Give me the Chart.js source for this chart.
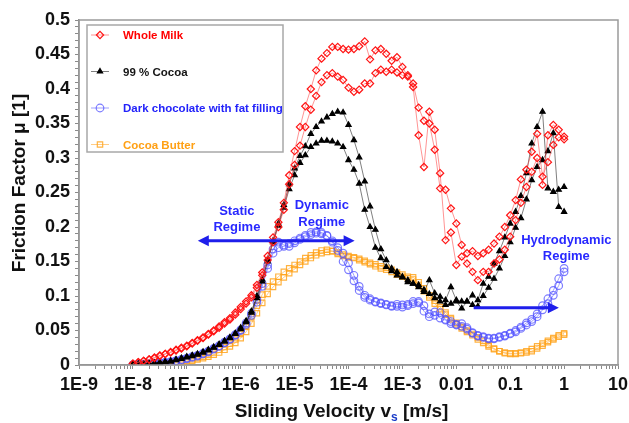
<!DOCTYPE html>
<html>
<head>
<meta charset="utf-8">
<script src="https://cdn.jsdelivr.net/npm/chart.js@4.4.1/dist/chart.umd.min.js"></script>
<style>
  html, body { margin: 0; padding: 0; background: #fff; }
  #wrap { width: 629px; height: 423px; }
</style>
</head>
<body>
<div id="wrap"><canvas id="grafico"></canvas></div>
<script>
// velocities [m/s], 10 points per decade
const velocity = [
  1e-8, 1.26e-8, 1.58e-8, 2e-8, 2.51e-8, 3.16e-8, 3.98e-8, 5.01e-8, 6.31e-8, 7.94e-8,
  1e-7, 1.26e-7, 1.58e-7, 2e-7, 2.51e-7, 3.16e-7, 3.98e-7, 5.01e-7, 6.31e-7, 7.94e-7,
  1e-6, 1.26e-6, 1.58e-6, 2e-6, 2.51e-6, 3.16e-6, 3.98e-6, 5.01e-6, 6.31e-6, 7.94e-6,
  1e-5, 1.26e-5, 1.58e-5, 2e-5, 2.51e-5, 3.16e-5, 3.98e-5, 5.01e-5, 6.31e-5, 7.94e-5,
  1e-4, 1.26e-4, 1.58e-4, 2e-4, 2.51e-4, 3.16e-4, 3.98e-4, 5.01e-4, 6.31e-4, 7.94e-4,
  1e-3, 1.26e-3, 1.58e-3, 2e-3, 2.51e-3, 3.16e-3, 3.98e-3, 5.01e-3, 6.31e-3, 7.94e-3,
  0.01, 0.0126, 0.0158, 0.02, 0.0251, 0.0316, 0.0398, 0.0501, 0.0631, 0.0794,
  0.1, 0.126, 0.158, 0.2, 0.251, 0.316, 0.398, 0.501, 0.631, 0.794,
  1
];

// Whole Milk, two runs
const milkRun1 = [
  0.002,0.004,0.006,0.008,0.011,0.014,0.016,0.019,0.022,0.025,
  0.028,0.032,0.036,0.040,0.045,0.050,0.056,0.062,0.068,0.076,
  0.084,0.092,0.101,0.116,0.134,0.158,0.185,0.207,0.235,0.275,
  0.310,0.345,0.375,0.400,0.427,0.444,0.452,0.461,0.461,0.458,
  0.457,0.458,0.462,0.469,0.443,0.456,0.458,0.451,0.441,0.446,
  0.432,0.418,0.408,0.373,0.354,0.350,0.312,0.256,0.254,0.227,
  0.205,0.174,0.162,0.165,0.158,0.162,0.167,0.176,0.186,0.200,
  0.217,0.239,0.269,0.283,0.309,0.335,0.273,0.294,0.319,0.330,
  0.327
];
const milkRun2 = [
  0.002,0.004,0.006,0.008,0.010,0.013,0.016,0.018,0.021,0.024,
  0.027,0.031,0.035,0.039,0.044,0.049,0.054,0.060,0.066,0.073,
  0.081,0.089,0.098,0.112,0.130,0.152,0.178,0.200,0.225,0.262,
  0.290,0.318,0.345,0.370,0.390,0.410,0.420,0.423,0.418,0.413,
  0.402,0.396,0.399,0.408,0.408,0.423,0.428,0.425,0.428,0.424,
  0.420,0.420,0.403,0.333,0.287,0.367,0.341,0.278,0.181,0.192,
  0.145,0.157,0.147,0.135,0.123,0.135,0.135,0.147,0.153,0.167,
  0.186,0.210,0.235,0.258,0.280,0.300,0.261,0.333,0.348,0.341,
  0.331
];

// 99 % Cocoa, two runs
const cocoaRun1 = [
  0.001,0.001,0.002,0.002,0.003,0.004,0.005,0.006,0.008,0.010,
  0.012,0.014,0.016,0.019,0.022,0.026,0.030,0.035,0.040,0.046,
  0.054,0.064,0.078,0.100,0.124,0.153,0.180,0.205,0.232,0.262,
  0.285,0.303,0.317,0.335,0.345,0.353,0.359,0.364,0.367,0.366,
  0.348,0.326,0.301,0.266,0.230,0.196,0.168,0.152,0.140,0.135,
  0.128,0.123,0.118,0.116,0.106,0.123,0.104,0.099,0.094,0.113,
  0.094,0.092,0.092,0.101,0.094,0.118,0.128,0.147,0.165,0.185,
  0.205,0.222,0.245,0.278,0.321,0.345,0.367,0.256,0.251,0.254,
  0.258
];
const cocoaRun2 = [
  0.001,0.001,0.001,0.002,0.002,0.003,0.004,0.005,0.007,0.009,
  0.011,0.013,0.015,0.018,0.021,0.025,0.029,0.034,0.039,0.045,
  0.052,0.062,0.076,0.097,0.121,0.150,0.178,0.202,0.228,0.255,
  0.275,0.293,0.304,0.316,0.321,0.325,0.325,0.324,0.321,0.316,
  0.297,0.283,0.263,0.225,0.200,0.170,0.155,0.142,0.136,0.130,
  0.127,0.120,0.118,0.113,0.109,0.103,0.097,0.092,0.087,0.089,
  0.092,0.082,0.092,0.087,0.085,0.100,0.112,0.125,0.140,0.158,
  0.178,0.199,0.213,0.240,0.268,0.287,0.297,0.310,0.336,0.229,
  0.222
];

// Dark chocolate with fat filling, two runs
const darkRun1 = [
  0.000,0.001,0.001,0.002,0.002,0.003,0.004,0.005,0.006,0.008,
  0.010,0.012,0.014,0.017,0.020,0.024,0.028,0.033,0.038,0.044,
  0.051,0.061,0.075,0.095,0.118,0.145,0.168,0.178,0.174,0.172,
  0.177,0.182,0.186,0.189,0.191,0.190,0.187,0.180,0.170,0.162,
  0.148,0.130,0.114,0.101,0.096,0.091,0.089,0.087,0.085,0.085,
  0.084,0.086,0.089,0.092,0.086,0.074,0.072,0.076,0.066,0.063,
  0.059,0.060,0.054,0.047,0.043,0.041,0.039,0.039,0.040,0.042,
  0.045,0.048,0.053,0.058,0.063,0.070,0.080,0.089,0.101,0.115,
  0.135
];
const darkRun2 = [
  0.000,0.001,0.001,0.001,0.002,0.003,0.003,0.004,0.006,0.007,
  0.009,0.011,0.013,0.016,0.019,0.023,0.027,0.032,0.037,0.043,
  0.050,0.059,0.072,0.091,0.114,0.140,0.162,0.170,0.172,0.176,
  0.180,0.184,0.188,0.192,0.193,0.192,0.188,0.178,0.166,0.150,
  0.138,0.122,0.108,0.098,0.094,0.092,0.090,0.088,0.086,0.088,
  0.087,0.088,0.092,0.090,0.078,0.070,0.077,0.068,0.065,0.060,
  0.058,0.056,0.052,0.046,0.042,0.040,0.038,0.038,0.041,0.043,
  0.046,0.050,0.055,0.061,0.066,0.074,0.086,0.096,0.108,0.125,
  0.140
];

// Cocoa Butter, two runs
const butterRun1 = [
  0.000,0.000,0.001,0.001,0.001,0.002,0.002,0.003,0.004,0.005,
  0.006,0.008,0.010,0.012,0.015,0.018,0.022,0.026,0.031,0.037,
  0.045,0.056,0.070,0.086,0.102,0.114,0.121,0.128,0.135,0.140,
  0.145,0.150,0.155,0.159,0.163,0.166,0.167,0.165,0.161,0.158,
  0.156,0.155,0.152,0.149,0.146,0.143,0.140,0.138,0.135,0.131,
  0.128,0.126,0.127,0.120,0.111,0.101,0.093,0.084,0.076,0.068,
  0.061,0.055,0.050,0.045,0.040,0.035,0.029,0.024,0.020,0.017,
  0.016,0.016,0.017,0.018,0.020,0.024,0.028,0.033,0.037,0.041,
  0.044
];
const butterRun2 = [
  0.000,0.000,0.000,0.001,0.001,0.001,0.002,0.002,0.003,0.004,
  0.005,0.006,0.008,0.010,0.012,0.015,0.018,0.022,0.027,0.032,
  0.039,0.048,0.060,0.075,0.090,0.103,0.113,0.120,0.127,0.133,
  0.139,0.145,0.150,0.155,0.159,0.162,0.164,0.165,0.163,0.160,
  0.158,0.156,0.154,0.151,0.148,0.146,0.143,0.141,0.138,0.134,
  0.131,0.128,0.124,0.116,0.107,0.098,0.089,0.081,0.073,0.066,
  0.059,0.053,0.048,0.043,0.037,0.032,0.027,0.023,0.020,0.018,
  0.017,0.017,0.018,0.020,0.023,0.027,0.031,0.035,0.039,0.043,
  0.046
];

const seriesNames = ['Whole Milk', '99 % Cocoa', 'Dark chocolate with fat filling', 'Cocoa Butter'];
const xTickValues = [1e-9, 1e-8, 1e-7, 1e-6, 1e-5, 1e-4, 1e-3, 0.01, 0.1, 1, 10];
const xTickLabels = ['1E-9', '1E-8', '1E-7', '1E-6', '1E-5', '1E-4', '1E-3', '0.01', '0.1', '1', '10'];
const yTickValues = [0, 0.05, 0.1, 0.15, 0.2, 0.25, 0.3, 0.35, 0.4, 0.45, 0.5];
const yTickLabels = ['0', '0.05', '0.1', '0.15', '0.2', '0.25', '0.3', '0.35', '0.4', '0.45', '0.5'];
const xTitle = ['Sliding Velocity v', 's', ' [m/s]'];
const yTitle = 'Friction Factor \u03bc [1]';
const regimeNotes = [
  { lines: ['Static', 'Regime'], x: 8.5e-7, y: [0.222, 0.200] },
  { lines: ['Dynamic', 'Regime'], x: 3.2e-5, y: [0.231, 0.207] },
  { lines: ['Hydrodynamic', 'Regime'], x: 1.1, y: [0.181, 0.158] }
];

const FONT = "'Liberation Sans', Arial, sans-serif";
const BLUE = 'rgb(30,30,235)';

const styles = [
  { color: 'rgb(255,20,20)', line: 'rgba(255,60,60,0.55)', point: 'rectRot', radius: 3.6, fill: 'rgba(255,255,255,0)', text: 'rgb(255,0,0)' },
  { color: 'rgb(0,0,0)', line: 'rgba(0,0,0,0.5)', point: 'triangle', radius: 3, fill: 'rgb(0,0,0)', text: 'rgb(20,20,20)' },
  { color: 'rgba(80,80,255,0.75)', line: 'rgba(80,80,255,0.55)', point: 'circle', radius: 3.8, fill: 'rgba(255,255,255,0)', text: 'rgb(35,35,250)' },
  { color: 'rgba(255,165,30,0.85)', line: 'rgba(255,170,50,0.6)', point: 'rect', radius: 3.8, fill: 'rgba(255,255,255,0)', text: 'rgb(255,160,20)' }
];

const runs = [[milkRun1, milkRun2], [cocoaRun1, cocoaRun2], [darkRun1, darkRun2], [butterRun1, butterRun2]];
const datasets = [];
runs.forEach((pair, s) => {
  pair.forEach((run, r) => {
    datasets.push({
      label: seriesNames[s] + ' ' + (r + 1),
      data: run.map((y, i) => ({ x: velocity[i], y: y })),
      borderColor: styles[s].line,
      borderWidth: 1,
      pointStyle: styles[s].point,
      pointRadius: styles[s].radius,
      pointBorderColor: styles[s].color,
      pointBackgroundColor: styles[s].fill,
      pointBorderWidth: 1.2,
      tension: 0,
      fill: false
    });
  });
});

// tick positions (majors + minors) for the axes
const xTickPositions = [];
xTickValues.forEach((v, k) => {
  const last = k === xTickValues.length - 1;
  for (let m = 1; m <= (last ? 1 : 9); m++) xTickPositions.push(m * v);
});
const yTickPositions = [];
for (let i = 0; i <= 50; i++) yTickPositions.push(i / 100);

function arrowHead(ctx, x, y, dir) {
  ctx.beginPath();
  ctx.moveTo(x, y);
  ctx.lineTo(x - dir * 11, y - 5.5);
  ctx.lineTo(x - dir * 11, y + 5.5);
  ctx.closePath();
  ctx.fill();
}

const decorations = {
  id: 'decorations',
  afterDatasetsDraw(chart) {
    const ctx = chart.ctx;
    const ca = chart.chartArea;
    const xs = chart.scales.x, ys = chart.scales.y;
    ctx.save();

    // frame
    ctx.strokeStyle = '#9a9a9a';
    ctx.lineWidth = 1.5;
    ctx.strokeRect(ca.left, ca.top, ca.right - ca.left, ca.bottom - ca.top);

    // regime arrows
    ctx.strokeStyle = BLUE;
    ctx.fillStyle = BLUE;
    ctx.lineWidth = 3;
    let y1 = ys.getPixelForValue(0.18);
    let a = xs.getPixelForValue(1.6e-7), b = xs.getPixelForValue(1.3e-4);
    ctx.beginPath(); ctx.moveTo(a + 6, y1); ctx.lineTo(b - 6, y1); ctx.stroke();
    arrowHead(ctx, a, y1, -1);
    arrowHead(ctx, b, y1, 1);
    let y2 = ys.getPixelForValue(0.083);
    a = xs.getPixelForValue(0.021); b = xs.getPixelForValue(0.8);
    ctx.beginPath(); ctx.moveTo(a, y2); ctx.lineTo(b - 6, y2); ctx.stroke();
    arrowHead(ctx, b, y2, 1);

    // regime labels
    ctx.font = 'bold 13px ' + FONT;
    ctx.fillStyle = 'rgb(40,40,255)';
    ctx.textAlign = 'center';
    ctx.textBaseline = 'middle';
    regimeNotes.forEach(n => {
      const x = xs.getPixelForValue(n.x);
      n.lines.forEach((t, i) => ctx.fillText(t, x, ys.getPixelForValue(n.y[i])));
    });

    // legend box
    const lx = ca.left + 8, ly = ca.top + 5, lw = 196, lh = 127;
    ctx.fillStyle = '#fff';
    ctx.fillRect(lx, ly, lw, lh);
    ctx.strokeStyle = '#a8a8a8';
    ctx.lineWidth = 1.5;
    ctx.strokeRect(lx, ly, lw, lh);
    ctx.font = 'bold 11.5px ' + FONT;
    ctx.textAlign = 'left';
    seriesNames.forEach((name, i) => {
      const st = styles[i];
      const yy = ly + 10 + i * 36.5;
      ctx.strokeStyle = st.line;
      ctx.lineWidth = 1;
      ctx.beginPath(); ctx.moveTo(lx + 4, yy); ctx.lineTo(lx + 22, yy); ctx.stroke();
      ctx.strokeStyle = st.color;
      ctx.fillStyle = st.fill;
      ctx.lineWidth = 1.2;
      Chart.helpers.drawPoint(ctx, { pointStyle: st.point, radius: st.radius, borderWidth: 1.2, rotation: 0 }, lx + 13, yy);
      ctx.fillStyle = st.text;
      ctx.fillText(name, lx + 36, yy + 1);
    });
    ctx.restore();
  },
  afterDraw(chart) {
    const ctx = chart.ctx;
    const ca = chart.chartArea;
    ctx.save();
    ctx.fillStyle = '#111';
    ctx.textBaseline = 'alphabetic';
    // x title with subscript
    const big = 'bold 19px ' + FONT, small = 'bold 12px ' + FONT;
    ctx.font = big;
    const w0 = ctx.measureText(xTitle[0]).width, w2 = ctx.measureText(xTitle[2]).width;
    ctx.font = small;
    const w1 = ctx.measureText(xTitle[1]).width;
    let x = (ca.left + ca.right) / 2 - 7 - (w0 + w1 + w2) / 2;
    const yb = 417;
    ctx.textAlign = 'left';
    ctx.font = big; ctx.fillText(xTitle[0], x, yb); x += w0;
    ctx.font = small; ctx.fillStyle = '#1a3cc8'; ctx.fillText(xTitle[1], x, yb + 4); x += w1;
    ctx.fillStyle = '#111';
    ctx.font = big; ctx.fillText(xTitle[2], x, yb);
    // y title
    ctx.translate(20, 183);
    ctx.rotate(-Math.PI / 2);
    ctx.textAlign = 'center';
    ctx.textBaseline = 'middle';
    ctx.fillText(yTitle, 0, 0);
    ctx.restore();
  }
};

const tickFont = { family: FONT, size: 18, weight: 'bold' };

new Chart(document.getElementById('grafico'), {
  type: 'line',
  data: { datasets: datasets },
  options: {
    responsive: true,
    maintainAspectRatio: false,
    animation: false,
    events: [],
    layout: { padding: { top: 20, right: 11, left: 0, bottom: 0 } },
    plugins: { legend: { display: false }, tooltip: { enabled: false } },
    scales: {
      x: {
        type: 'logarithmic',
        min: 1e-9,
        max: 10,
        afterBuildTicks: scale => { scale.ticks = xTickPositions.map(v => ({ value: v })); },
        afterFit: scale => {
          scale.height = 58;
          scale.paddingLeft = 0; scale.paddingRight = 0; scale.paddingTop = 0; scale.paddingBottom = 0;
        },
        ticks: {
          autoSkip: false,
          maxRotation: 0,
          padding: 5,
          color: '#111',
          font: tickFont,
          callback: v => {
            const i = xTickValues.indexOf(v);
            return i >= 0 ? xTickLabels[i] : '';
          }
        },
        grid: { drawOnChartArea: false, drawTicks: true, tickLength: 4, color: '#8a8a8a' },
        border: { display: true, color: '#8a8a8a', width: 1.5 }
      },
      y: {
        min: 0,
        max: 0.5,
        afterBuildTicks: scale => { scale.ticks = yTickPositions.map(v => ({ value: v })); },
        afterFit: scale => {
          scale.width = 79;
          scale.paddingLeft = 0; scale.paddingRight = 0; scale.paddingTop = 0; scale.paddingBottom = 0;
        },
        ticks: {
          autoSkip: false,
          padding: 5,
          color: '#111',
          font: tickFont,
          callback: v => {
            const i = yTickValues.findIndex(t => Math.abs(t - v) < 1e-9);
            return i >= 0 ? yTickLabels[i] : '';
          }
        },
        grid: { drawOnChartArea: false, drawTicks: true, tickLength: 4, color: '#8a8a8a' },
        border: { display: true, color: '#8a8a8a', width: 1.5 }
      }
    }
  },
  plugins: [decorations]
});
</script>
</body>
</html>
